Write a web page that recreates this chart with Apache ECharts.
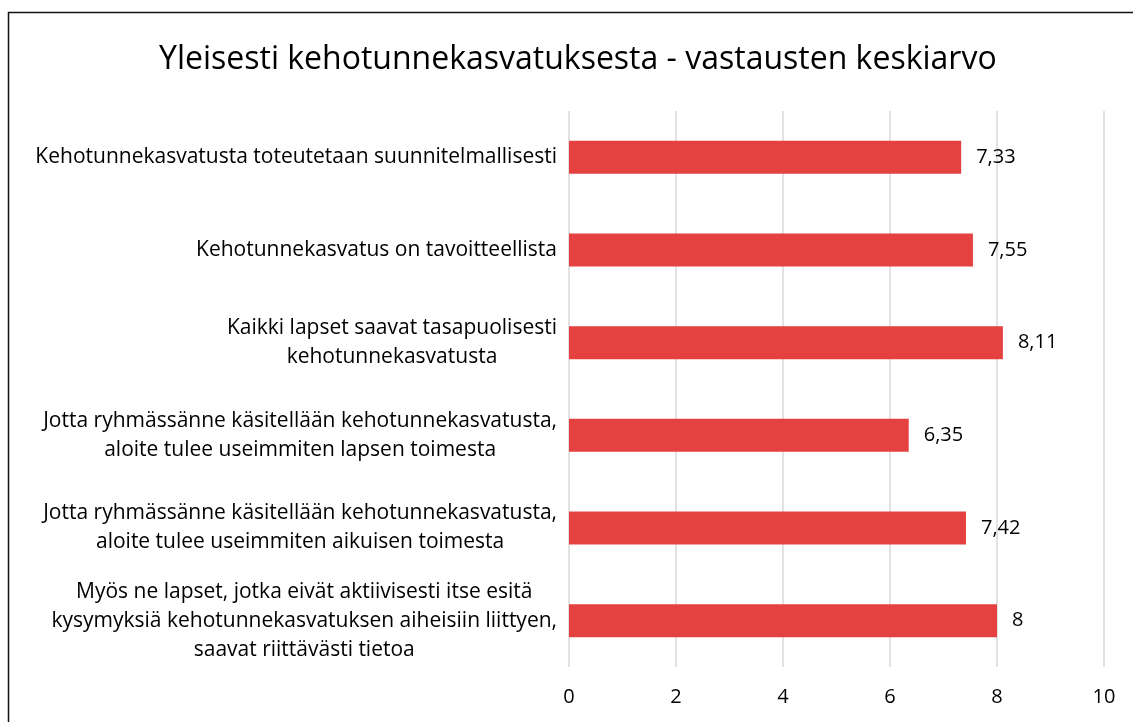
<!DOCTYPE html>
<html>
<head>
<meta charset="utf-8">
<script src="https://cdn.jsdelivr.net/npm/echarts@6/dist/echarts.min.js"></script>
<style>
  html, body { margin: 0; padding: 0; background: #fff; }
  #chart { width: 1133px; height: 722px; }
</style>
</head>
<body>
<div id="chart"></div>
<script>
// categories, top to bottom
var categories = [
    'Kehotunnekasvatusta toteutetaan suunnitelmallisesti',
    'Kehotunnekasvatus on tavoitteellista',
    'Kaikki lapset saavat tasapuolisesti\nkehotunnekasvatusta',
    'Jotta ryhmässänne käsitellään kehotunnekasvatusta,\naloite tulee useimmiten lapsen toimesta',
    'Jotta ryhmässänne käsitellään kehotunnekasvatusta,\naloite tulee useimmiten aikuisen toimesta',
    'Myös ne lapset, jotka eivät aktiivisesti itse esitä\nkysymyksiä kehotunnekasvatuksen aiheisiin liittyen,\nsaavat riittävästi tietoa'
];
var averages = [7.33, 7.55, 8.11, 6.35, 7.42, 8];
var titleText = 'Yleisesti kehotunnekasvatuksesta - vastausten keskiarvo';

var font = 'Open Sans';

var chart = echarts.init(document.getElementById('chart'));
var option = {
    backgroundColor: '#fff',
    animation: false,
    title: {
        text: titleText,
        left: 154,
        top: 39,
        textStyle: {
            fontFamily: font,
            fontSize: 32,
            fontWeight: 'normal',
            color: '#000'
        }
    },
    graphic: [{
        type: 'rect',
        shape: {x: 8.5, y: 12.5, width: 1300, height: 900},
        style: {fill: 'none', stroke: '#111', lineWidth: 1.5},
        silent: true
    }],
    grid: {
        left: 569,
        right: 29,
        top: 111,
        bottom: 55
    },
    xAxis: {
        type: 'value',
        min: 0,
        max: 10,
        interval: 2,
        axisLine: {show: false},
        axisTick: {show: false},
        splitLine: {lineStyle: {color: '#d9d9d9', width: 1.5}},
        axisLabel: {
            margin: 20,
            fontFamily: font,
            fontSize: 20,
            color: '#000'
        }
    },
    yAxis: {
        type: 'category',
        inverse: true,
        data: categories,
        axisLine: {show: false},
        axisTick: {show: false},
        axisLabel: {
            margin: 12,
            color: '#000',
            formatter: function (v) {
                return v.split('\n').map(function (l) {
                    return '{c|' + l + '}';
                }).join('\n');
            },
            rich: {
                c: {
                    align: 'center',
                    fontFamily: font,
                    fontSize: 21,
                    lineHeight: 29,
                    color: '#000'
                }
            }
        }
    },
    series: [{
        type: 'bar',
        data: averages,
        barWidth: 33,
        itemStyle: {color: '#e54141'},
        label: {
            show: true,
            position: 'right',
            distance: 15,
            fontFamily: font,
            fontSize: 20,
            color: '#000',
            formatter: function (p) {
                return String(p.value).replace('.', ',');
            }
        }
    }]
};
chart.setOption(option);
window.addEventListener('resize', chart.resize);
</script>
</body>
</html>
